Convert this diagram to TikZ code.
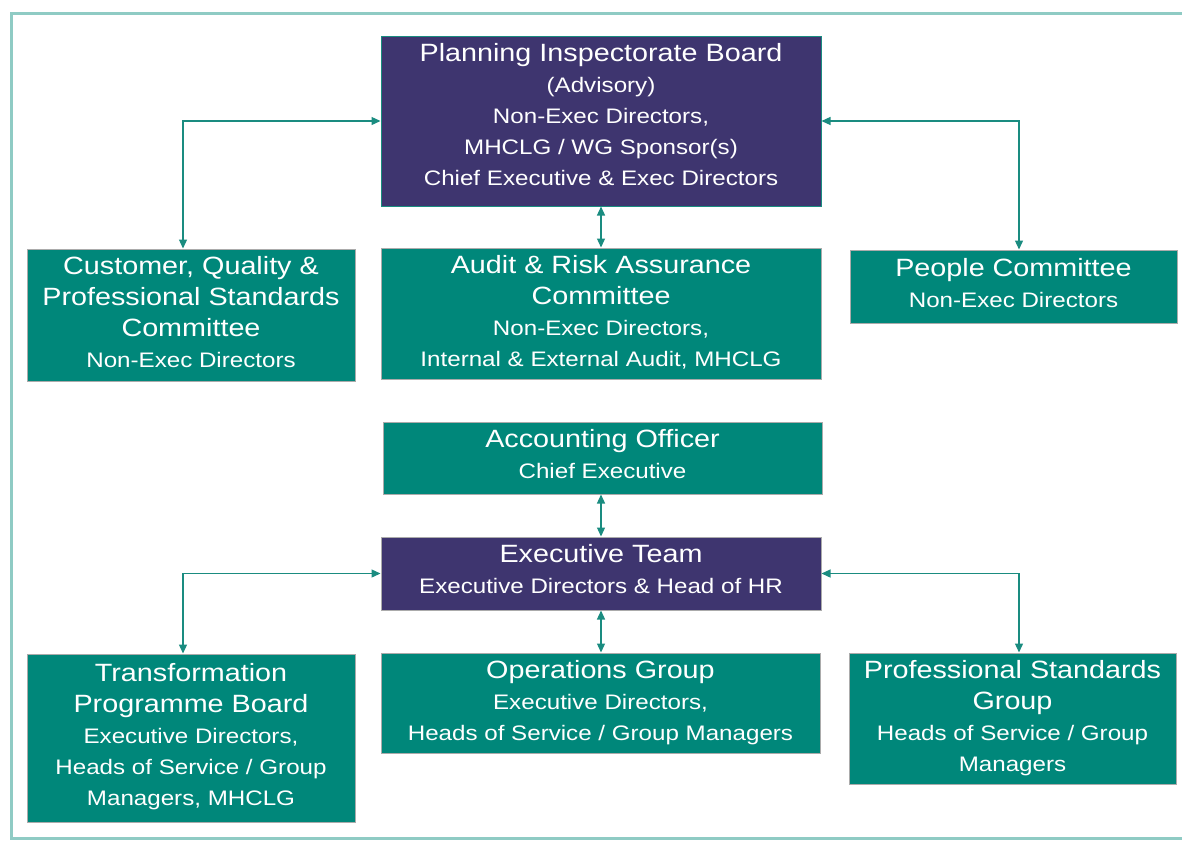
\documentclass[tikz,border=0pt]{standalone}
\usepackage{fontspec}
\setmainfont[FakeStretch=1.15]{Liberation Sans}
\usetikzlibrary{arrows.meta}
\definecolor{teal1}{HTML}{00877A}
\definecolor{purp}{HTML}{3E356F}
\definecolor{frame}{HTML}{8FCBC4}
\definecolor{arr}{HTML}{1A8C80}
\definecolor{bgray}{HTML}{ABABAB}
\newcommand{\ttl}{\fontsize{25}{31}\selectfont}
\newcommand{\sbt}{\fontsize{21}{31}\selectfont}
\newcommand{\lift}[1]{\rule[-#1]{0pt}{0pt}}
\tikzset{
  box/.style={rectangle, fill=teal1, draw=bgray, line width=1pt, text=white, align=center, inner sep=0pt, font=\sbt},
  pbox/.style={box, fill=purp},
  link/.style={draw=arr, line width=1.3pt, {Triangle[length=9pt,width=8pt]}-{Triangle[length=9pt,width=8pt]}}
}
\begin{document}
\begin{tikzpicture}[x=1pt,y=-1pt]
\useasboundingbox (0,0) rectangle (1182,844);
\draw[frame, line width=3pt] (1190,13) -- (11,13) -- (11,838) -- (1190,838);
% top row
\node[pbox, draw=arr, minimum width=440pt, minimum height=170pt] (pib) at (601,121)
  {{\ttl Planning Inspectorate Board}\\(Advisory)\\Non-Exec Directors,\\MHCLG / WG Sponsor(s)\\Chief Executive \& Exec Directors\lift{14pt}};
\node[box, minimum width=328pt, minimum height=132pt] (cq) at (191,315)
  {{\ttl Customer, Quality \&}\\{\ttl Professional Standards}\\{\ttl Committee}\\Non-Exec Directors\lift{6pt}};
\node[box, minimum width=440pt, minimum height=131pt] (ara) at (601,313.5)
  {{\ttl Audit \& Risk Assurance}\\{\ttl Committee}\\Non-Exec Directors,\\Internal \& External Audit, MHCLG\lift{6pt}};
\node[box, minimum width=327pt, minimum height=73pt] (pc) at (1013.5,286.5)
  {{\ttl People Committee}\\Non-Exec Directors\lift{8pt}};
% middle
\node[box, minimum width=439pt, minimum height=72pt] (ao) at (602.5,458)
  {{\ttl Accounting Officer}\\Chief Executive\lift{9pt}};
\node[pbox, minimum width=440pt, minimum height=73pt] (et) at (601,573.5)
  {{\ttl Executive Team}\\Executive Directors \& Head of HR\lift{9pt}};
% bottom row
\node[box, minimum width=328pt, minimum height=168pt] (tpb) at (191,738)
  {{\ttl Transformation}\\{\ttl Programme Board}\\Executive Directors,\\Heads of Service / Group\\Managers, MHCLG\lift{8pt}};
\node[box, minimum width=439pt, minimum height=100pt] (og) at (600.5,703)
  {{\ttl Operations Group}\\Executive Directors,\\Heads of Service / Group Managers\lift{5pt}};
\node[box, minimum width=327pt, minimum height=131pt] (psg) at (1012.5,718.5)
  {{\ttl Professional Standards}\\{\ttl Group}\\Heads of Service / Group\\Managers\lift{5pt}};
% connectors
\draw[link] (pib.west) -| ([xshift=-8pt]cq.north);
\draw[link] (pib.east) -| ([xshift=5.5pt]pc.north);
\draw[link] (pib.south) -- (ara.north);
\draw[link] (ao.south -| et.north) -- (et.north);
\draw[link] (et.west) -| ([xshift=-8pt]tpb.north);
\draw[link] (et.east) -| ([xshift=6.5pt]psg.north);
\draw[link] (et.south) -- (et.south |- og.north);
\end{tikzpicture}
\end{document}
